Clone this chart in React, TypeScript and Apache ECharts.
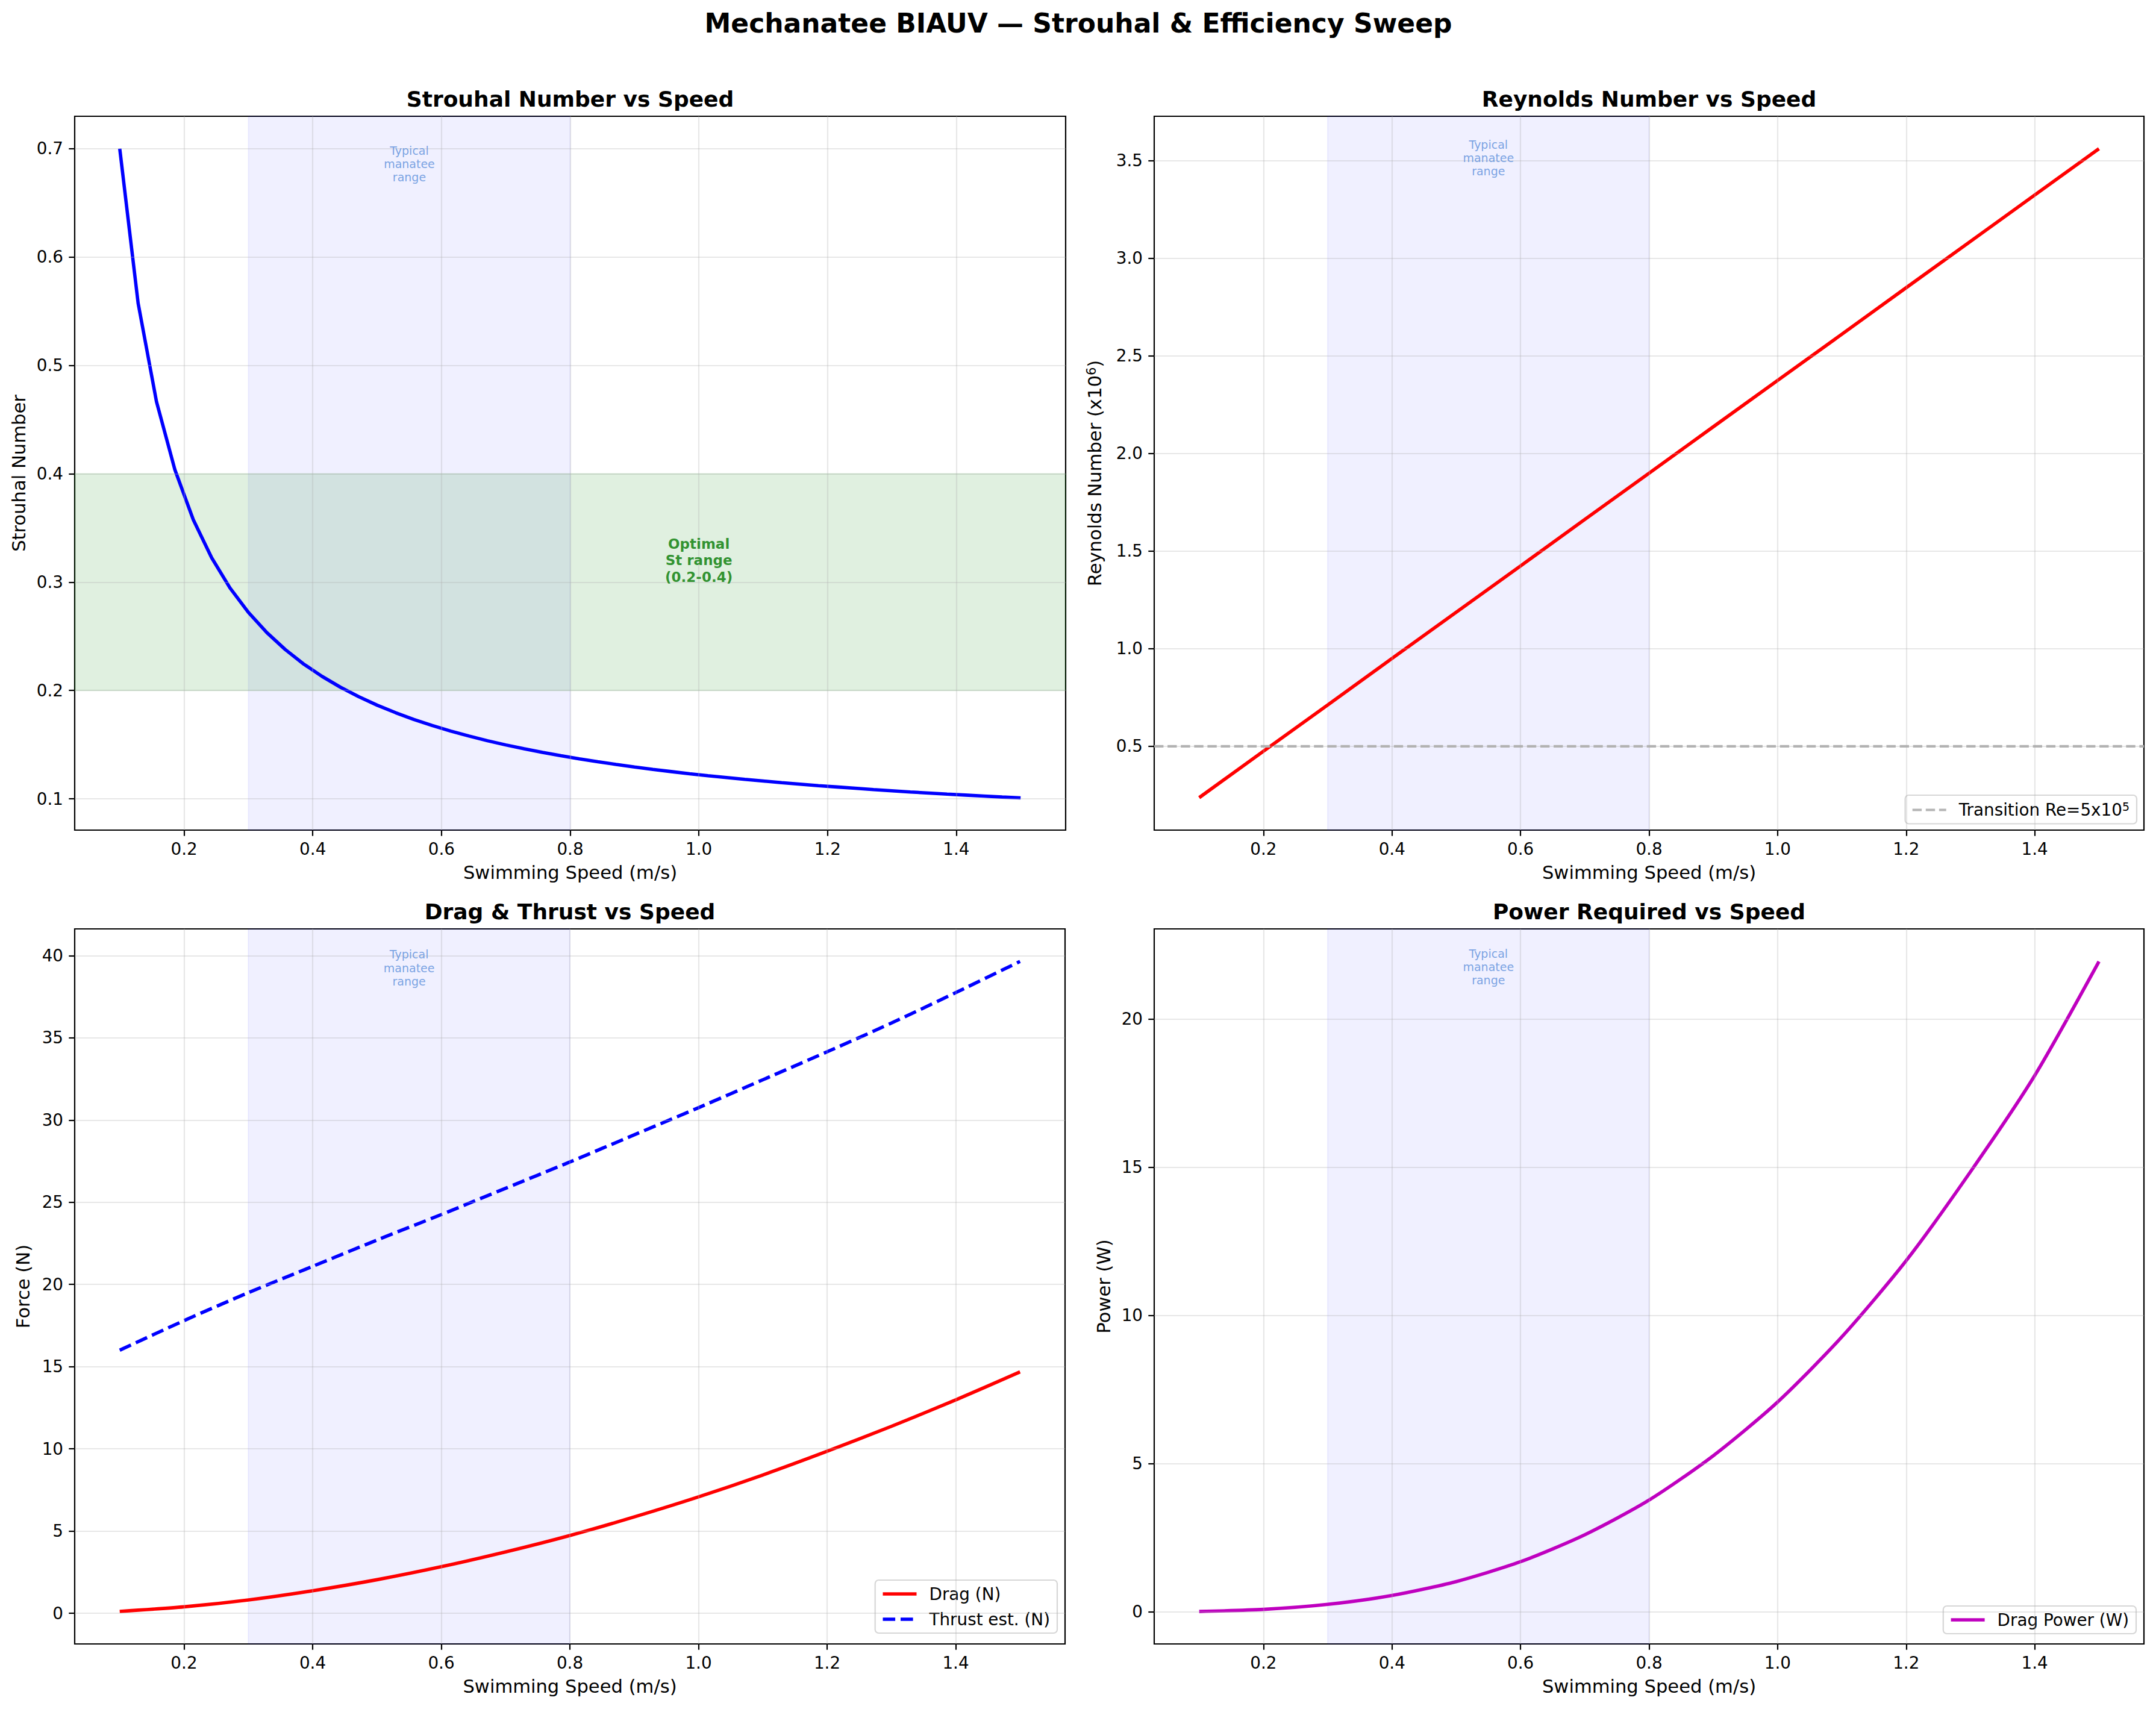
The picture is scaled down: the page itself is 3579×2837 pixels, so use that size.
import React, { useEffect, useRef } from "react";
import * as echarts from "echarts";

// ---------- data ----------
const speeds = [0.1,0.1286,0.1571,0.1857,0.2143,0.2429,0.2714,0.3,0.3286,0.3571,0.3857,0.4143,0.4429,0.4714,0.5,0.5286,0.5571,0.5857,0.6143,0.6429,0.6714,0.7,0.7286,0.7571,0.7857,0.8143,0.8429,0.8714,0.9,0.9286,0.9571,0.9857,1.0143,1.0429,1.0714,1.1,1.1286,1.1571,1.1857,1.2143,1.2429,1.2714,1.3,1.3286,1.3571,1.3857,1.4143,1.4429,1.4714,1.5];
const strouhal = [0.7,0.5573,0.4665,0.4037,0.3576,0.3224,0.2945,0.272,0.2534,0.2378,0.2244,0.213,0.203,0.1942,0.1864,0.1795,0.1732,0.1676,0.1625,0.1579,0.1536,0.1497,0.1461,0.1428,0.1397,0.1368,0.1342,0.1317,0.1293,0.1271,0.1251,0.1231,0.1213,0.1196,0.1179,0.1164,0.1149,0.1135,0.1121,0.1109,0.1097,0.1085,0.1074,0.1063,0.1053,0.1043,0.1034,0.1025,0.1016,0.1008];

const speedsCoarse = [0.1,0.2,0.3,0.4,0.5,0.6,0.7,0.8,0.9,1.0,1.1,1.2,1.3,1.4,1.5];
const reynolds = [0.237,0.475,0.712,0.950,1.187,1.424,1.662,1.899,2.137,2.374,2.611,2.849,3.086,3.324,3.561];
const drag = [0.11,0.39,0.81,1.37,2.04,2.83,3.73,4.73,5.86,7.08,8.41,9.85,11.37,12.98,14.68];
const thrust = [16.0,17.8,19.5,21.1,22.7,24.25,25.85,27.45,29.1,30.75,32.45,34.15,35.9,37.75,39.65];
const power = [0.01,0.08,0.25,0.55,1.02,1.69,2.60,3.77,5.27,7.08,9.28,11.85,14.85,18.1,21.95];

const manateeRange = [0.3, 0.8];
const optimalSt = [0.2, 0.4];
const transitionRe = 0.5;

const xTicks = [0.2,0.4,0.6,0.8,1.0,1.2,1.4];
const stTicks = [0.1,0.2,0.3,0.4,0.5,0.6,0.7];
const reTicks = [0.5,1.0,1.5,2.0,2.5,3.0,3.5];
const forceTicks = [0,5,10,15,20,25,30,35,40];
const powerTicks = [0,5,10,15,20];

const xLimits = [0.03, 1.57];
const stLimits = [0.0711, 0.7299];
const reLimits = [0.0708, 3.7272];
const forceLimits = [-1.867, 41.627];
const powerLimits = [-1.086, 23.05];

const FONT = '"DejaVu Sans", Verdana, sans-serif';
const GRID_COLOR = "rgba(176,176,176,0.3)";
const BLUE_BAND = "rgba(0,0,255,0.06)";
const GREEN_BAND = "rgba(0,128,0,0.12)";
const NOTE_COLOR = "#5a8edb";

const panels = [
  { left: 124, top: 193, width: 1645, height: 1185, title: "Strouhal Number vs Speed", yName: "Strouhal Number", yGap: 77, yTicks: stTicks, yLim: stLimits, dec: 1, noteY: 0.686 },
  { left: 1916, top: 193, width: 1643, height: 1185, title: "Reynolds Number vs Speed", yName: "Reynolds Number (x10{sup|6})", yGap: 82, yTicks: reTicks, yLim: reLimits, dec: 1, noteY: 3.515 },
  { left: 124, top: 1542, width: 1644, height: 1187, title: "Drag & Thrust vs Speed", yName: "Force (N)", yGap: 70, yTicks: forceTicks, yLim: forceLimits, dec: 0, noteY: 39.26 },
  { left: 1916, top: 1542, width: 1643, height: 1187, title: "Power Required vs Speed", yName: "Power (W)", yGap: 68, yTicks: powerTicks, yLim: powerLimits, dec: 0, noteY: 21.77 },
];

function buildOption() {
  const grid: any[] = [];
  const xAxis: any[] = [];
  const yAxis: any[] = [];
  const series: any[] = [];
  const graphic: any[] = [];

  graphic.push({
    type: "text",
    x: 1790,
    y: 38,
    silent: true,
    style: {
      text: "Mechanatee BIAUV — Strouhal & Efficiency Sweep",
      font: `bold 44px ${FONT}`,
      fill: "#000",
      textAlign: "center",
      textVerticalAlign: "middle",
      align: "center",
      verticalAlign: "middle",
    },
  });

  panels.forEach((p, i) => {
    grid.push({
      left: p.left,
      top: p.top,
      width: p.width,
      height: p.height,
      show: true,
      borderColor: "#000",
      borderWidth: 2.2,
      backgroundColor: "rgba(0,0,0,0)",
      containLabel: false,
      outerBoundsMode: "none",
    });
    xAxis.push({
      type: "value",
      gridIndex: i,
      min: xLimits[0],
      max: xLimits[1],
      name: "Swimming Speed (m/s)",
      nameLocation: "middle",
      nameGap: 55,
      nameTextStyle: { fontFamily: FONT, fontSize: 30.6, color: "#000" },
      axisLine: { show: false, onZero: false },
      axisTick: { show: true, customValues: xTicks, length: 9.7, lineStyle: { color: "#000", width: 2.2 } },
      axisLabel: {
        customValues: xTicks,
        formatter: (v: number) => v.toFixed(1),
        fontFamily: FONT,
        fontSize: 27.8,
        color: "#000",
        margin: 17,
      },
      splitLine: { show: false },
    });
    yAxis.push({
      type: "value",
      gridIndex: i,
      min: p.yLim[0],
      max: p.yLim[1],
      name: p.yName,
      nameLocation: "middle",
      nameGap: p.yGap,
      nameTextStyle: {
        fontFamily: FONT,
        fontSize: 30.6,
        color: "#000",
        rich: { sup: { fontFamily: FONT, fontSize: 21, color: "#000", padding: [0, 0, 12, 0] } },
      },
      axisLine: { show: false, onZero: false },
      axisTick: { show: true, customValues: p.yTicks, length: 9.7, lineStyle: { color: "#000", width: 2.2 } },
      axisLabel: {
        customValues: p.yTicks,
        formatter: (v: number) => v.toFixed(p.dec),
        fontFamily: FONT,
        fontSize: 27.8,
        color: "#000",
        margin: 19,
      },
      splitLine: { show: false },
    });

    graphic.push({
      type: "text",
      x: p.left + p.width / 2,
      y: p.top - 29,
      silent: true,
      style: {
        text: p.title,
        font: `bold 36px ${FONT}`,
        fill: "#000",
        textAlign: "center",
        textVerticalAlign: "middle",
        align: "center",
        verticalAlign: "middle",
      },
    });

    const bands: any[] = [
      [
        { xAxis: manateeRange[0], itemStyle: { color: BLUE_BAND, borderColor: BLUE_BAND, borderWidth: 2 } },
        { xAxis: manateeRange[1] },
      ],
    ];
    if (i === 0) {
      bands.push([
        { yAxis: optimalSt[0], itemStyle: { color: GREEN_BAND, borderColor: GREEN_BAND, borderWidth: 2 } },
        { yAxis: optimalSt[1] },
      ]);
    }
    series.push({
      type: "line",
      name: `bands-${i}`,
      xAxisIndex: i,
      yAxisIndex: i,
      data: [],
      z: 1,
      silent: true,
      markArea: { silent: true, data: bands },
    });

    series.push({
      type: "line",
      name: `grid-${i}`,
      xAxisIndex: i,
      yAxisIndex: i,
      data: [],
      z: 2,
      silent: true,
      markLine: {
        silent: true,
        symbol: ["none", "none"],
        label: { show: false },
        emphasis: { disabled: true },
        lineStyle: { color: GRID_COLOR, width: 2.2, type: "solid" },
        data: [...xTicks.map((v) => ({ xAxis: v })), ...p.yTicks.map((v) => ({ yAxis: v }))],
      },
    });

    series.push({
      type: "scatter",
      name: `note-${i}`,
      xAxisIndex: i,
      yAxisIndex: i,
      z: 5,
      silent: true,
      symbolSize: 1,
      itemStyle: { color: "rgba(0,0,0,0)" },
      data: [[(manateeRange[0] + manateeRange[1]) / 2, p.noteY]],
      label: {
        show: true,
        position: "inside",
        formatter: "Typical\nmanatee\nrange",
        fontFamily: FONT,
        fontSize: 19,
        lineHeight: 22.2,
        color: NOTE_COLOR,
        align: "center",
        verticalAlign: "middle",
      },
    });
  });

  const lineBase = { type: "line", showSymbol: false, symbol: "none", z: 3, silent: true, emphasis: { disabled: true } };

  series.push({
    ...lineBase,
    name: "Strouhal",
    xAxisIndex: 0,
    yAxisIndex: 0,
    data: speeds.map((x, k) => [x, strouhal[k]]),
    lineStyle: { color: "#0000ff", width: 5.6 },
  });
  series.push({
    type: "scatter",
    name: "optimal-note",
    xAxisIndex: 0,
    yAxisIndex: 0,
    z: 5,
    silent: true,
    symbolSize: 1,
    itemStyle: { color: "rgba(0,0,0,0)" },
    data: [[1.0, 0.32]],
    label: {
      show: true,
      position: "inside",
      formatter: "Optimal\nSt range\n(0.2-0.4)",
      fontFamily: FONT,
      fontSize: 23,
      fontWeight: "bold",
      lineHeight: 27.5,
      color: "#007a00",
      align: "center",
      verticalAlign: "middle",
    },
  });

  series.push({
    ...lineBase,
    name: "Reynolds",
    xAxisIndex: 1,
    yAxisIndex: 1,
    data: speedsCoarse.map((x, k) => [x, reynolds[k]]),
    lineStyle: { color: "#ff0000", width: 5.6 },
  });
  const transitionStyle = { color: "#b4b4b4", width: 4.2, type: [15.4, 6.7] };
  series.push({
    ...lineBase,
    name: "Transition",
    xAxisIndex: 1,
    yAxisIndex: 1,
    z: 4,
    data: [
      [xLimits[0], transitionRe],
      [xLimits[1], transitionRe],
    ],
    itemStyle: { color: "#b4b4b4" },
    lineStyle: transitionStyle,
  });

  const dragStyle = { color: "#ff0000", width: 5.6, type: "solid" };
  const thrustStyle = { color: "#0000ff", width: 5.6, type: [20.6, 8.9] };
  const powerStyle = { color: "#bf00bf", width: 5.6, type: "solid" };
  const smoothOpts = { smooth: 0.25 };

  series.push({
    ...lineBase,
    ...smoothOpts,
    name: "Drag (N)",
    xAxisIndex: 2,
    yAxisIndex: 2,
    data: speedsCoarse.map((x, k) => [x, drag[k]]),
    itemStyle: { color: "#ff0000" },
    lineStyle: dragStyle,
  });
  series.push({
    ...lineBase,
    ...smoothOpts,
    name: "Thrust est. (N)",
    xAxisIndex: 2,
    yAxisIndex: 2,
    data: speedsCoarse.map((x, k) => [x, thrust[k]]),
    itemStyle: { color: "#0000ff" },
    lineStyle: thrustStyle,
  });

  series.push({
    ...lineBase,
    ...smoothOpts,
    name: "Drag Power (W)",
    xAxisIndex: 3,
    yAxisIndex: 3,
    data: speedsCoarse.map((x, k) => [x, power[k]]),
    itemStyle: { color: "#bf00bf" },
    lineStyle: powerStyle,
  });

  const legendBase = {
    orient: "vertical",
    itemWidth: 56,
    itemHeight: 28,
    itemGap: 14,
    padding: [9, 12, 9, 10],
    backgroundColor: "rgba(255,255,255,0.8)",
    borderColor: "rgba(204,204,204,0.8)",
    borderWidth: 2.2,
    borderRadius: 6,
    selectedMode: false,
    itemStyle: { color: "rgba(0,0,0,0)", borderWidth: 0, opacity: 0 },
    textStyle: {
      fontFamily: FONT,
      fontSize: 27.8,
      color: "#000",
      padding: [0, 0, 0, 16],
      rich: { sup: { fontFamily: FONT, fontSize: 19, color: "#000", padding: [0, 0, 12, 0] } },
    },
  };

  const legend = [
    {
      ...legendBase,
      data: [{ name: "Transition", lineStyle: transitionStyle, itemStyle: { opacity: 0 } }],
      right: 32,
      top: 1320,
      formatter: () => "Transition Re=5x10{sup|5}",
    },
    {
      ...legendBase,
      data: [
        { name: "Drag (N)", lineStyle: dragStyle, itemStyle: { opacity: 0 } },
        { name: "Thrust est. (N)", lineStyle: thrustStyle, itemStyle: { opacity: 0 } },
      ],
      right: 1824,
      top: 2623,
    },
    {
      ...legendBase,
      data: [{ name: "Drag Power (W)", lineStyle: powerStyle, itemStyle: { opacity: 0 } }],
      right: 33,
      top: 2666,
    },
  ];

  return {
    animation: false,
    backgroundColor: "#ffffff",
    textStyle: { fontFamily: FONT },
    grid,
    xAxis,
    yAxis,
    series,
    legend,
    graphic,
  };
}

export default function App() {
  const ref = useRef<HTMLDivElement>(null);
  useEffect(() => {
    if (!ref.current) return;
    const chart = echarts.init(ref.current, null, { renderer: "svg" });
    chart.setOption(buildOption() as any);
    return () => chart.dispose();
  }, []);
  return (
    <div
      ref={ref}
      style={{ position: "absolute", left: 0, top: 0, width: 3579, height: 2837, background: "#fff" }}
    />
  );
}
